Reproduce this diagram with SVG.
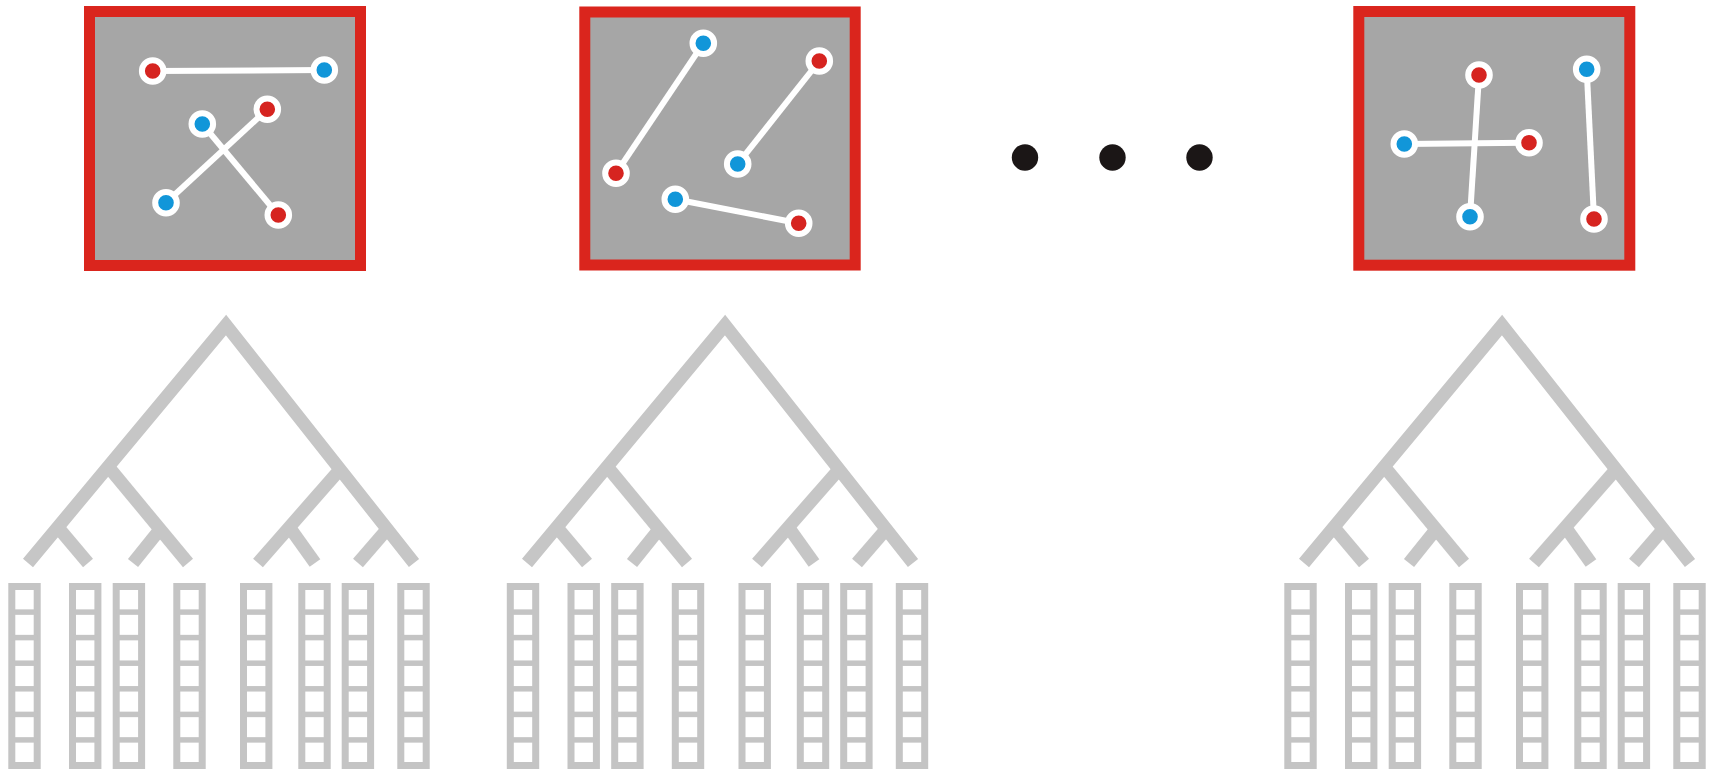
<svg xmlns="http://www.w3.org/2000/svg" xmlns:xlink="http://www.w3.org/1999/xlink" width="1713" height="770" viewBox="0 0 1713 770">
  <style>
    .frame { fill: #a6a6a6; stroke: #da251d; stroke-width: 11; }
    .seg { stroke: #ffffff; stroke-width: 6; fill: none; }
    .dr { fill: #d62420; stroke: #ffffff; stroke-width: 6; }
    .db { fill: #1196d9; stroke: #ffffff; stroke-width: 6; }
    .tree { fill: none; stroke: #c6c6c6; stroke-width: 13; stroke-linejoin: miter; stroke-linecap: butt; }
    .col { fill: none; stroke: #c4c4c4; stroke-width: 7; }
    .div { stroke: #c4c4c4; stroke-width: 5.5; }
    .ell { fill: #1b1616; }
  </style>
  <defs>
    <g id="treeShape" class="tree">
      <polyline points="28,563 226,325 414,563"/>
      <line x1="108.5" y1="467" x2="188" y2="563"/>
      <line x1="58.5" y1="528" x2="88" y2="563"/>
      <line x1="159.5" y1="530" x2="133" y2="563"/>
      <line x1="339.5" y1="470" x2="258" y2="563"/>
      <line x1="290" y1="528" x2="315" y2="563"/>
      <line x1="386.5" y1="530" x2="358" y2="563"/>
    </g>
    <g id="column">
      <rect class="col" x="0" y="586.5" width="25.4" height="179"/>
      <g class="div">
        <line x1="0" y1="612.1" x2="25.4" y2="612.1"/>
        <line x1="0" y1="637.6" x2="25.4" y2="637.6"/>
        <line x1="0" y1="663.2" x2="25.4" y2="663.2"/>
        <line x1="0" y1="688.8" x2="25.4" y2="688.8"/>
        <line x1="0" y1="714.4" x2="25.4" y2="714.4"/>
        <line x1="0" y1="739.9" x2="25.4" y2="739.9"/>
      </g>
    </g>
    <g id="columnSet">
      <use xlink:href="#column" href="#column" x="11.8"/>
      <use xlink:href="#column" href="#column" x="72.5"/>
      <use xlink:href="#column" href="#column" x="116.2"/>
      <use xlink:href="#column" href="#column" x="176.8"/>
      <use xlink:href="#column" href="#column" x="243.5"/>
      <use xlink:href="#column" href="#column" x="301.8"/>
      <use xlink:href="#column" href="#column" x="345.2"/>
      <use xlink:href="#column" href="#column" x="400.8"/>
    </g>
  </defs>

  <g id="panel1">
    <rect class="frame" x="89.5" y="11.5" width="271" height="254"/>
    <line class="seg" x1="152.7" y1="71" x2="324.3" y2="70"/>
    <line class="seg" x1="202.3" y1="124" x2="278.3" y2="215"/>
    <line class="seg" x1="166" y1="202.7" x2="267.3" y2="109.3"/>
    <circle class="dr" cx="152.7" cy="71" r="10.8"/>
    <circle class="db" cx="324.3" cy="70" r="10.8"/>
    <circle class="db" cx="202.3" cy="124" r="10.8"/>
    <circle class="dr" cx="267.3" cy="109.3" r="10.8"/>
    <circle class="db" cx="166" cy="202.7" r="10.8"/>
    <circle class="dr" cx="278.3" cy="215" r="10.8"/>
  </g>

  <g id="panel2">
    <rect class="frame" x="584.8" y="12" width="270.4" height="253"/>
    <line class="seg" x1="703.3" y1="43.3" x2="616" y2="173.3"/>
    <line class="seg" x1="819.3" y1="61" x2="737.7" y2="164"/>
    <line class="seg" x1="675.3" y1="199.3" x2="798.7" y2="223.3"/>
    <circle class="db" cx="703.3" cy="43.3" r="10.8"/>
    <circle class="dr" cx="616" cy="173.3" r="10.8"/>
    <circle class="dr" cx="819.3" cy="61" r="10.8"/>
    <circle class="db" cx="737.7" cy="164" r="10.8"/>
    <circle class="db" cx="675.3" cy="199.3" r="10.8"/>
    <circle class="dr" cx="798.7" cy="223.3" r="10.8"/>
  </g>

  <g id="ellipsis">
    <circle class="ell" cx="1025" cy="157.5" r="13.2"/>
    <circle class="ell" cx="1112.5" cy="157.5" r="13.2"/>
    <circle class="ell" cx="1199.5" cy="157.5" r="13.2"/>
  </g>

  <g id="panel3">
    <rect class="frame" x="1358.8" y="11.5" width="271" height="253.7"/>
    <line class="seg" x1="1479" y1="75" x2="1470" y2="216.7"/>
    <line class="seg" x1="1404.3" y1="144" x2="1529" y2="142.7"/>
    <line class="seg" x1="1586.7" y1="69.3" x2="1594" y2="219"/>
    <circle class="dr" cx="1479" cy="75" r="10.8"/>
    <circle class="db" cx="1470" cy="216.7" r="10.8"/>
    <circle class="db" cx="1404.3" cy="144" r="10.8"/>
    <circle class="dr" cx="1529" cy="142.7" r="10.8"/>
    <circle class="db" cx="1586.7" cy="69.3" r="10.8"/>
    <circle class="dr" cx="1594" cy="219" r="10.8"/>
  </g>

  <g id="connectors">
    <use id="tree1" xlink:href="#treeShape" href="#treeShape"/>
    <use id="tree2" xlink:href="#treeShape" href="#treeShape" x="499"/>
    <use id="tree3" xlink:href="#treeShape" href="#treeShape" x="1276"/>
  </g>

  <g id="leaves1"><use xlink:href="#columnSet" href="#columnSet"/></g>
  <g id="leaves2"><use xlink:href="#columnSet" href="#columnSet" x="498.5"/></g>
  <g id="leaves3"><use xlink:href="#columnSet" href="#columnSet" x="1276"/></g>
</svg>
